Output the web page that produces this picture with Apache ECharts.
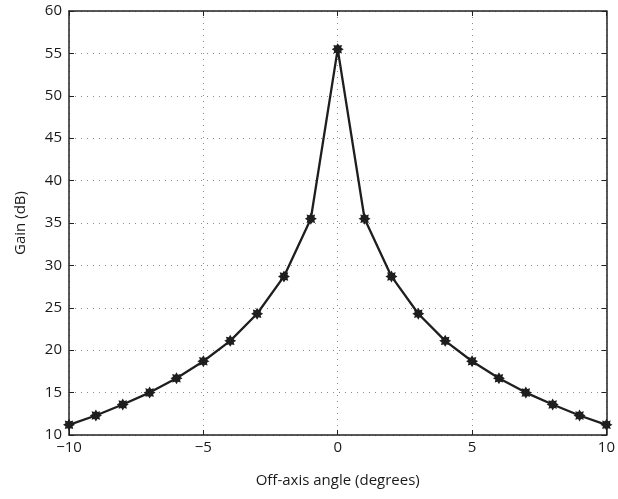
<!DOCTYPE html>
<html><head><meta charset="utf-8">
<script src="https://cdn.jsdelivr.net/npm/echarts@6/dist/echarts.min.js"></script>
<style>html,body{margin:0;padding:0;background:#fff}#c{width:618px;height:499px}</style>
</head><body><div id="c"></div>
<script>
const angles = [-10,-9,-8,-7,-6,-5,-4,-3,-2,-1,0,1,2,3,4,5,6,7,8,9,10];
const gain = [11.2,12.3,13.6,15.0,16.7,18.7,21.1,24.3,28.7,35.5,55.5,35.5,28.7,24.3,21.1,18.7,16.7,15.0,13.6,12.3,11.2];
const xTitle = 'Off-axis angle (degrees)';
const yTitle = 'Gain (dB)';

function starPath(n, ro, ri){
  let p = '';
  for(let i=0;i<2*n;i++){
    const r = i%2===0?ro:ri;
    const a = Math.PI*i/n - Math.PI/2;
    const x = (50 + r*Math.cos(a)).toFixed(2), y = (50 + r*Math.sin(a)).toFixed(2);
    p += (i===0?'M':'L') + x + ' ' + y + ' ';
  }
  return p + 'Z';
}
const fontFam = '"Open Sans", "Noto Sans", sans-serif';
const lbl = {color:'#1a1a1a', fontSize:15, fontFamily:fontFam};
const chart = echarts.init(document.getElementById('c'));
const fmtMinus = v => (v<0?'\u2212'+Math.abs(v):String(v));
const line = {show:true, onZero:false, lineStyle:{color:'#222', width:1.5}};
const tick = {show:true, inside:true, length:5, lineStyle:{color:'#222'}};
const grid = {show:true, lineStyle:{color:'#8a8a8a', type:[1,5], width:1}};
chart.setOption({
  animation:false,
  grid:{left:69, top:11, width:540, height:424},
  xAxis:[{
    type:'value', min:-10, max:10, interval:5,
    axisLine:line, axisTick:tick,
    axisLabel:{...lbl, margin:5, formatter:fmtMinus},
    splitLine:grid,
    name:xTitle, nameLocation:'middle', nameGap:38, nameTextStyle:{...lbl, fontSize:15}
  },{
    type:'value', min:-10, max:10, interval:5, position:'top',
    axisLine:line, axisTick:tick,
    axisLabel:{show:false}, splitLine:{show:false}
  }],
  yAxis:[{
    type:'value', min:10, max:60, interval:5,
    axisLine:line, axisTick:tick,
    axisLabel:{...lbl, margin:7},
    splitLine:grid,
    name:yTitle, nameLocation:'middle', nameGap:41, nameTextStyle:{...lbl, fontSize:15}
  },{
    type:'value', min:10, max:60, interval:5, position:'right',
    axisLine:line, axisTick:tick,
    axisLabel:{show:false}, splitLine:{show:false}
  }],
  series:[{
    type:'line', data:angles.map((a,i)=>[a,gain[i]]),
    lineStyle:{color:'#1e1e1e', width:2.3},
    symbol:'path://'+starPath(8,50,32), symbolSize:12, symbolKeepAspect:true,
    itemStyle:{color:'#1e1e1e', borderWidth:0},
    clip:false
  }]
});
</script></body></html>
